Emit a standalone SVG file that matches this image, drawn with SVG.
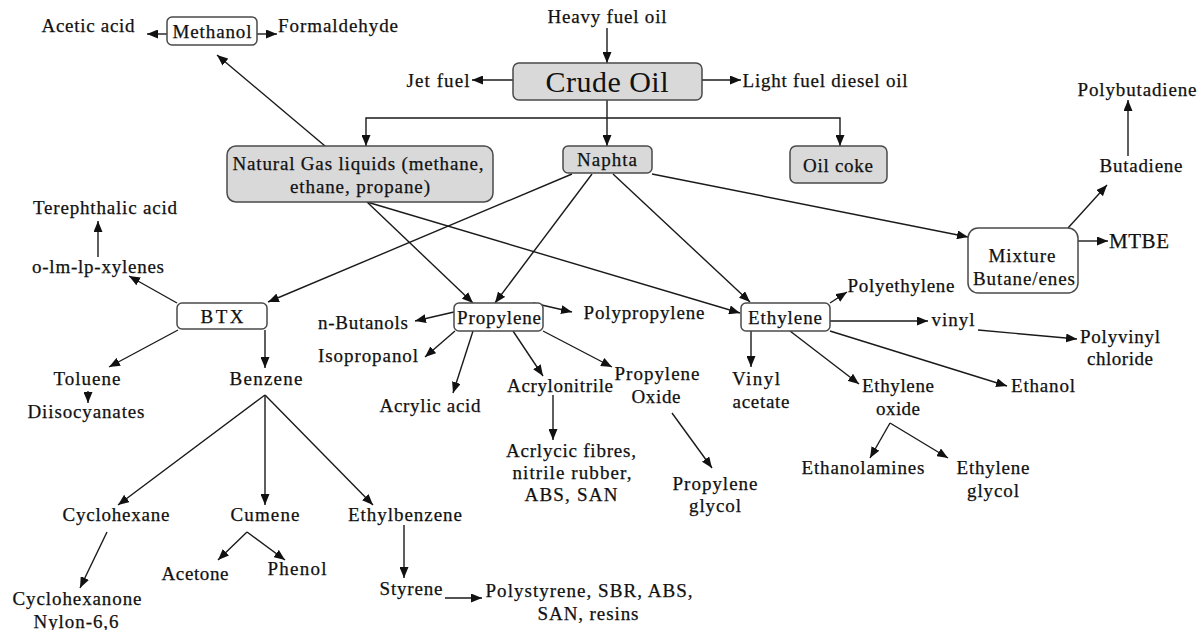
<svg xmlns="http://www.w3.org/2000/svg" width="1200" height="630" viewBox="0 0 1200 630">
<style>
text{font-size:19px;fill:#111;text-anchor:middle;stroke:#111;stroke-width:0.25}
.big{font-size:30px;stroke-width:0}
.mid{font-size:21px}
.box{fill:#ffffff;stroke:#4a4a4a;stroke-width:1.5}
.gbox{fill:#d9d9d9;stroke:#4a4a4a;stroke-width:1.5}
#connectors line,#connectors polyline{stroke:#1a1a1a;stroke-width:1.4;fill:none}
.a{marker-end:url(#arr)}
</style>
<defs>
<marker id="arr" markerUnits="userSpaceOnUse" markerWidth="11" markerHeight="9" refX="11" refY="4.5" orient="auto">
<path d="M0,0 L11,4.5 L0,9 z" fill="#111"/>
</marker>
</defs>
<rect width="1200" height="630" fill="#ffffff"/>
<g id="connectors">
<line class="a" x1="607" y1="28" x2="607" y2="63"/>
<line class="a" x1="513" y1="80" x2="472" y2="80"/>
<line class="a" x1="702" y1="80" x2="741" y2="80"/>
<line class="a" x1="607" y1="100" x2="607" y2="146"/>
<polyline class="a" points="607,118 366,118 366,146"/>
<polyline class="a" points="607,118 840,118 840,146"/>
<line class="a" x1="167" y1="34" x2="147" y2="34"/>
<line class="a" x1="257" y1="34" x2="277" y2="34"/>
<line class="a" x1="325" y1="146" x2="217" y2="55"/>
<line class="a" x1="367" y1="202" x2="473" y2="303"/>
<line class="a" x1="367" y1="202" x2="740" y2="313"/>
<line class="a" x1="572" y1="174" x2="268" y2="302"/>
<line class="a" x1="592" y1="174" x2="495" y2="303"/>
<line class="a" x1="613" y1="174" x2="750" y2="302"/>
<line class="a" x1="652" y1="174" x2="968" y2="237"/>
<line class="a" x1="1068" y1="228" x2="1107" y2="185"/>
<line class="a" x1="1128" y1="156" x2="1128" y2="100"/>
<line class="a" x1="1078" y1="241" x2="1108" y2="241"/>
<line class="a" x1="177" y1="303" x2="129" y2="276"/>
<line class="a" x1="98" y1="257" x2="98" y2="221"/>
<line class="a" x1="178" y1="330" x2="109" y2="367"/>
<line class="a" x1="88" y1="391" x2="88" y2="403"/>
<line class="a" x1="265" y1="330" x2="265" y2="368"/>
<line class="a" x1="265" y1="395" x2="118" y2="505"/>
<line class="a" x1="265" y1="395" x2="265" y2="505"/>
<line class="a" x1="265" y1="395" x2="373" y2="505"/>
<line class="a" x1="107" y1="532" x2="80" y2="588"/>
<line class="a" x1="247" y1="532" x2="218" y2="560"/>
<line class="a" x1="247" y1="532" x2="285" y2="560"/>
<line class="a" x1="404" y1="525" x2="404" y2="578"/>
<line class="a" x1="445" y1="598" x2="482" y2="598"/>
<line class="a" x1="533" y1="303" x2="572" y2="312"/>
<line class="a" x1="454" y1="312" x2="415" y2="321"/>
<line class="a" x1="455" y1="331" x2="425" y2="357"/>
<line class="a" x1="473" y1="331" x2="453" y2="393"/>
<line class="a" x1="513" y1="331" x2="543" y2="376"/>
<line class="a" x1="553" y1="395" x2="553" y2="440"/>
<line class="a" x1="543" y1="331" x2="612" y2="367"/>
<line class="a" x1="672" y1="413" x2="712" y2="468"/>
<line class="a" x1="830" y1="303" x2="847" y2="292"/>
<line class="a" x1="830" y1="321" x2="928" y2="321"/>
<line class="a" x1="978" y1="330" x2="1077" y2="339"/>
<line class="a" x1="751" y1="331" x2="751" y2="367"/>
<line class="a" x1="790" y1="331" x2="859" y2="384"/>
<line class="a" x1="830" y1="331" x2="1007" y2="386"/>
<line class="a" x1="890" y1="423" x2="870" y2="458"/>
<line class="a" x1="890" y1="423" x2="948" y2="458"/>
</g>
<g id="crude-oil"><rect class="gbox" x="513" y="63" width="189" height="37" rx="6"/><text font-family="Liberation Serif" class="big" x="607" y="92" textLength="123">Crude Oil</text></g>
<g id="heavy-fuel-oil"><text font-family="Liberation Serif" x="607" y="23" textLength="119">Heavy fuel oil</text></g>
<g id="jet-fuel"><text font-family="Liberation Serif" x="438" y="87" textLength="63">Jet fuel</text></g>
<g id="light-fuel"><text font-family="Liberation Serif" x="825" y="87" textLength="165">Light fuel diesel oil</text></g>
<g id="methanol"><rect class="box" x="167" y="17" width="90" height="28" rx="5"/><text font-family="Liberation Serif" x="212" y="38" textLength="79">Methanol</text></g>
<g id="acetic-acid"><text font-family="Liberation Serif" x="88" y="32" textLength="93">Acetic acid</text></g>
<g id="formaldehyde"><text font-family="Liberation Serif" x="338" y="32" textLength="120">Formaldehyde</text></g>
<g id="ngl"><rect class="gbox" x="227" y="146" width="266" height="56" rx="9"/><text font-family="Liberation Serif" x="358" y="170" textLength="251">Natural Gas liquids (methane,</text><text font-family="Liberation Serif" x="360" y="193" textLength="140">ethane, propane)</text></g>
<g id="naphta"><rect class="gbox" x="563" y="146" width="89" height="27" rx="5"/><text font-family="Liberation Serif" x="607" y="166" textLength="60">Naphta</text></g>
<g id="oil-coke"><rect class="gbox" x="790" y="146" width="97" height="37" rx="6"/><text font-family="Liberation Serif" x="838" y="172" textLength="70">Oil coke</text></g>
<g id="polybutadiene"><text font-family="Liberation Serif" x="1137" y="96" textLength="119">Polybutadiene</text></g>
<g id="butadiene"><text font-family="Liberation Serif" x="1141" y="172" textLength="83">Butadiene</text></g>
<g id="mixture"><rect class="box" x="968" y="228" width="110" height="65" rx="10"/><text font-family="Liberation Serif" x="1022" y="262" textLength="67">Mixture</text><text font-family="Liberation Serif" x="1024" y="285" textLength="102">Butane/enes</text></g>
<g id="mtbe"><text font-family="Liberation Serif" class="mid" x="1139" y="248" textLength="60">MTBE</text></g>
<g id="terephthalic-acid"><text font-family="Liberation Serif" x="105" y="214" textLength="144">Terephthalic acid</text></g>
<g id="xylenes"><text font-family="Liberation Serif" x="98" y="273" textLength="132">o-lm-lp-xylenes</text></g>
<g id="btx"><rect class="box" x="177" y="303" width="90" height="26" rx="5"/><text font-family="Liberation Serif" x="222" y="323" textLength="43">BTX</text></g>
<g id="toluene"><text font-family="Liberation Serif" x="87" y="385" textLength="67">Toluene</text></g>
<g id="diisocyanates"><text font-family="Liberation Serif" x="86" y="418" textLength="117">Diisocyanates</text></g>
<g id="benzene"><text font-family="Liberation Serif" x="266" y="385" textLength="73">Benzene</text></g>
<g id="cyclohexane"><text font-family="Liberation Serif" x="116" y="521" textLength="107">Cyclohexane</text></g>
<g id="cumene"><text font-family="Liberation Serif" x="265" y="521" textLength="69">Cumene</text></g>
<g id="ethylbenzene"><text font-family="Liberation Serif" x="405" y="521" textLength="114">Ethylbenzene</text></g>
<g id="cyclohexanone"><text font-family="Liberation Serif" x="77" y="605" textLength="129">Cyclohexanone</text><text font-family="Liberation Serif" x="76" y="628" textLength="85">Nylon-6,6</text></g>
<g id="acetone"><text font-family="Liberation Serif" x="195" y="580" textLength="67">Acetone</text></g>
<g id="phenol"><text font-family="Liberation Serif" x="297" y="575" textLength="59">Phenol</text></g>
<g id="styrene"><text font-family="Liberation Serif" x="411" y="595" textLength="63">Styrene</text></g>
<g id="polystyrene"><text font-family="Liberation Serif" x="589" y="597" textLength="207">Polystyrene, SBR, ABS,</text><text font-family="Liberation Serif" x="588" y="620" textLength="101">SAN, resins</text></g>
<g id="propylene"><rect class="box" x="454" y="303" width="89" height="28" rx="5"/><text font-family="Liberation Serif" x="499" y="324" textLength="84">Propylene</text></g>
<g id="polypropylene"><text font-family="Liberation Serif" x="644" y="319" textLength="121">Polypropylene</text></g>
<g id="n-butanols"><text font-family="Liberation Serif" x="363" y="329" textLength="90">n-Butanols</text></g>
<g id="isopropanol"><text font-family="Liberation Serif" x="368" y="362" textLength="100">Isopropanol</text></g>
<g id="acrylic-acid"><text font-family="Liberation Serif" x="430" y="412" textLength="101">Acrylic acid</text></g>
<g id="acrylonitrile"><text font-family="Liberation Serif" x="560" y="392" textLength="106">Acrylonitrile</text></g>
<g id="acrylic-fibres"><text font-family="Liberation Serif" x="571" y="457" textLength="130">Acrlycic fibres,</text><text font-family="Liberation Serif" x="572" y="479" textLength="119">nitrile rubber,</text><text font-family="Liberation Serif" x="571" y="501" textLength="93">ABS, SAN</text></g>
<g id="propylene-oxide"><text font-family="Liberation Serif" x="657" y="380" textLength="85">Propylene</text><text font-family="Liberation Serif" x="656" y="403" textLength="49">Oxide</text></g>
<g id="propylene-glycol"><text font-family="Liberation Serif" x="715" y="490" textLength="85">Propylene</text><text font-family="Liberation Serif" x="715" y="512" textLength="52">glycol</text></g>
<g id="ethylene"><rect class="box" x="741" y="303" width="89" height="28" rx="5"/><text font-family="Liberation Serif" x="785" y="324" textLength="74">Ethylene</text></g>
<g id="polyethylene"><text font-family="Liberation Serif" x="901" y="292" textLength="107">Polyethylene</text></g>
<g id="vinyl"><text font-family="Liberation Serif" x="953" y="326" textLength="43">vinyl</text></g>
<g id="pvc"><text font-family="Liberation Serif" x="1120" y="343" textLength="80">Polyvinyl</text><text font-family="Liberation Serif" x="1120" y="365" textLength="66">chloride</text></g>
<g id="vinyl-acetate"><text font-family="Liberation Serif" x="756" y="385" textLength="48">Vinyl</text><text font-family="Liberation Serif" x="761" y="408" textLength="57">acetate</text></g>
<g id="ethylene-oxide"><text font-family="Liberation Serif" x="898" y="392" textLength="72">Ethylene</text><text font-family="Liberation Serif" x="898" y="415" textLength="44">oxide</text></g>
<g id="ethanol"><text font-family="Liberation Serif" x="1043" y="392" textLength="64">Ethanol</text></g>
<g id="ethanolamines"><text font-family="Liberation Serif" x="863" y="474" textLength="123">Ethanolamines</text></g>
<g id="ethylene-glycol"><text font-family="Liberation Serif" x="993" y="474" textLength="73">Ethylene</text><text font-family="Liberation Serif" x="993" y="497" textLength="52">glycol</text></g>
</svg>
